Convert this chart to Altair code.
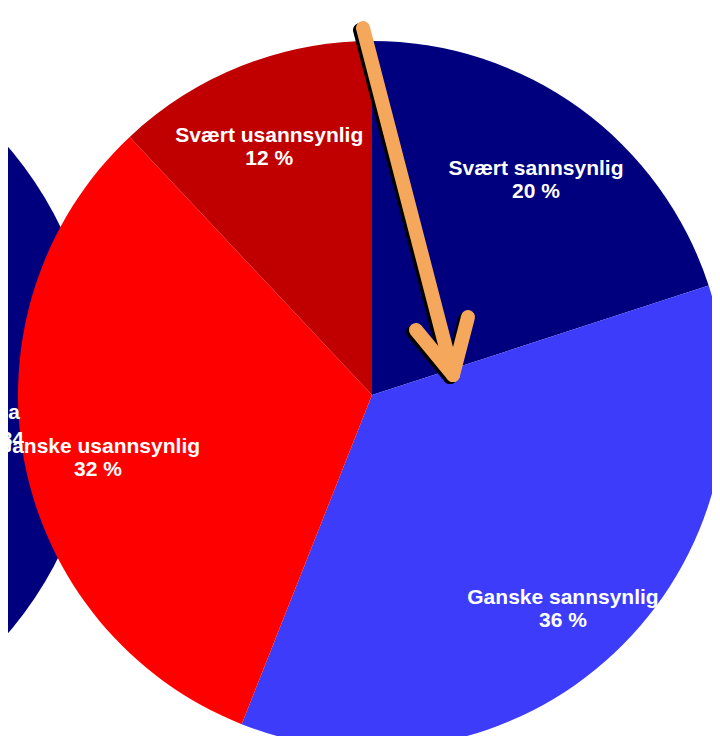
import altair as alt
import pandas as pd

# Main pie
categories = ["Svært sannsynlig", "Ganske sannsynlig", "Ganske usannsynlig", "Svært usannsynlig"]
percents = [20, 36, 32, 12]
slice_order = [1, 2, 3, 4]
slice_colors = ["#00007F", "#3C3CFA", "#FF0000", "#C00000"]

# Partially visible neighbouring pie (left edge) and its cut-off label fragments
left_pie_value = [100]
left_pie_color = "#00007F"
left_label_text = ["sa", "34"]
left_label_x = [20, 24]      # image pixel units
left_label_y = [413, 440]

# Orange annotation arrow (image pixel units): shaft and two head wings
arrow_x1 = [363, 416, 468]
arrow_y1 = [28, 330, 317]
arrow_x2 = [453, 453, 453]
arrow_y2 = [375, 375, 375]
arrow_color = "#F5A85C"

W, H = 704, 728
OFF = 8  # page margin: image px -> chart px

pie_df = pd.DataFrame({"category": categories, "pct": percents, "order": slice_order})
left_df = pd.DataFrame({"v": left_pie_value})
lab_df = pd.DataFrame({"t": left_label_text, "x": left_label_x, "y": left_label_y})
arr_df = pd.DataFrame({"x1": arrow_x1, "y1": arrow_y1, "x2": arrow_x2, "y2": arrow_y2})
shadow_df = arr_df.copy()
shadow_df[["x1", "x2"]] = shadow_df[["x1", "x2"]] - 3
shadow_df[["y1", "y2"]] = shadow_df[["y1", "y2"]] + 2

xs = alt.Scale(domain=[OFF, OFF + W])
ys = alt.Scale(domain=[OFF, OFF + H], reverse=True)

cx, cy, R = 372 - OFF, 395 - OFF, 354

left_pie = alt.Chart(left_df).mark_arc(outerRadius=374, color=left_pie_color).encode(
    theta=alt.Theta("v:Q"),
    x=alt.value(-276 - OFF),
    y=alt.value(390 - OFF),
)

pie = alt.Chart(pie_df).mark_arc(outerRadius=R).encode(
    theta=alt.Theta("pct:Q", stack=True),
    order=alt.Order("order:Q"),
    color=alt.Color("category:N", scale=alt.Scale(domain=categories, range=slice_colors), legend=None),
    x=alt.value(cx),
    y=alt.value(cy),
)

labels = alt.Chart(pie_df).transform_calculate(
    label="datum.category + '\\n' + datum.pct + ' %'"
).mark_text(
    radius=279, fontSize=21, fontWeight="bold", font="Liberation Sans",
    color="white", lineBreak="\n", lineHeight=23, align="center", baseline="middle",
).encode(
    theta=alt.Theta("pct:Q", stack=True),
    order=alt.Order("order:Q"),
    detail="category:N",
    text="label:N",
    x=alt.value(cx),
    y=alt.value(cy),
)

left_labels = alt.Chart(lab_df).mark_text(
    fontSize=21, fontWeight="bold", font="Liberation Sans", color="white",
    align="right", baseline="middle",
).encode(
    x=alt.X("x:Q", scale=xs, axis=None),
    y=alt.Y("y:Q", scale=ys, axis=None),
    text="t:N",
)

shadow = alt.Chart(shadow_df).mark_rule(color="black", strokeWidth=14, strokeCap="round").encode(
    x=alt.X("x1:Q", scale=xs, axis=None),
    y=alt.Y("y1:Q", scale=ys, axis=None),
    x2="x2:Q",
    y2="y2:Q",
)

arrow = alt.Chart(arr_df).mark_rule(color=arrow_color, strokeWidth=14, strokeCap="round").encode(
    x=alt.X("x1:Q", scale=xs, axis=None),
    y=alt.Y("y1:Q", scale=ys, axis=None),
    x2="x2:Q",
    y2="y2:Q",
)

chart = alt.layer(left_pie, pie, labels, left_labels, shadow, arrow).properties(
    width=W, height=H, padding=0, autosize=alt.AutoSizeParams(type="none"),
    background="white",
).configure_view(stroke=None)

chart.save("out.html", embed_options={"renderer": "svg", "actions": False})
